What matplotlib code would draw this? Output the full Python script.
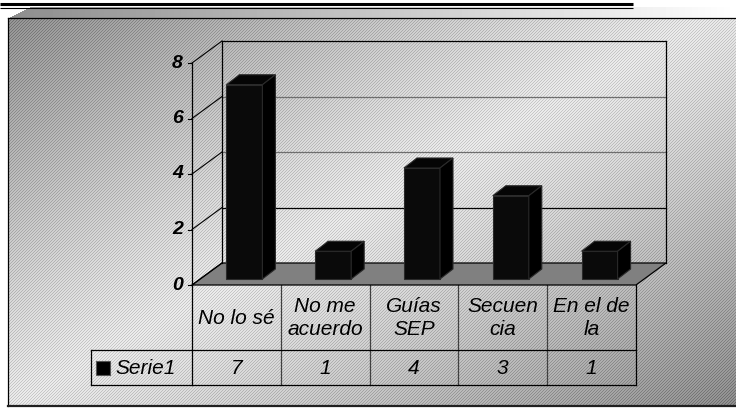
import numpy as np
import matplotlib.pyplot as plt
from matplotlib.patches import Polygon, Rectangle
from matplotlib.transforms import blended_transform_factory

categories = ['No lo sé', 'No me\nacuerdo', 'Guías\nSEP', 'Secuen\ncia', 'En el de\nla']
values = [7, 1, 4, 3, 1]
series_name = 'Serie1'
y_ticks = [0, 2, 4, 6, 8]
grid_colors = ['black', 'black', '#6e6e6e', '#6e6e6e', 'black']

W, H = 736, 409
plt.rcParams['font.family'] = ['Liberation Sans', 'DejaVu Sans']

fig = plt.figure(figsize=(W / 100, H / 100), dpi=100)

# full-figure axes in pixel units for the chart frame and the data table
bg = fig.add_axes([0, 0, 1, 1])
bg.set_xlim(0, W)
bg.set_ylim(H, 0)
bg.axis('off')

yy, xx = np.mgrid[0:H, 0:W]
u = xx / W + yy / H
shade = 0.92 - 0.36 * np.abs(u - 1) ** 1.2
shade = shade - 0.14 * ((xx + yy) % 3 == 0)
img = np.ones((H, W))
box = (xx >= 8) & (yy >= 18) & (yy <= 406)
img[box] = shade[box]
top = (yy >= 7) & (yy < 18) & (xx >= 8 + (18 - yy) * 2)
img[top] = (0.55 + 0.45 * xx / W)[top]
bg.imshow(img, cmap='gray', vmin=0, vmax=1, extent=(0, W, H, 0),
          interpolation='nearest', aspect='auto', zorder=0)

# frame lines
bg.plot([0, 633], [4, 4], color='black', lw=2.2, solid_capstyle='butt')
bg.plot([0, 633], [7.5, 7.5], color='black', lw=0.8, solid_capstyle='butt')
bg.plot([8, W], [18, 18], color='black', lw=0.9)
bg.plot([8, 8], [18, 406], color='black', lw=0.9)
bg.plot([8, W], [406, 406], color='#202020', lw=1.6)

# plot area: front plane of the 3D box
ax = fig.add_axes([192 / W, (H - 285) / H, 444 / W, 222 / H])
ax.set_xlim(-0.5, len(values) - 0.5)
ax.set_ylim(0, 8)
ax.axis('off')

sx = 444 / len(values)   # px per category
sy = 222 / 8             # px per unit
wall_dx, wall_dy = 30 / sx, 22 / sy
bar_dx, bar_dy = 8 / sx, 6 / sy
depth_dx, depth_dy = 13 / sx, 10 / sy
bar_w = 36 / sx
x_left, x_right = -0.5, len(values) - 0.5

# floor
ax.add_patch(Polygon([(x_left, 0), (x_right, 0),
                      (x_right + wall_dx, wall_dy), (x_left + wall_dx, wall_dy)],
                     closed=True, facecolor='#808080', edgecolor='black',
                     lw=0.9, clip_on=False, zorder=1))

# back wall gridlines and side wall diagonals
for t, c in zip(y_ticks, grid_colors):
    if t > 0:
        ax.plot([x_left + wall_dx, x_right + wall_dx], [t + wall_dy] * 2,
                color=c, lw=0.9, clip_on=False, zorder=1)
    ax.plot([x_left, x_left + wall_dx], [t, t + wall_dy],
            color='black', lw=0.8, clip_on=False, zorder=1)
    ax.plot([x_left - 4 / sx, x_left], [t, t], color='black', lw=0.8, clip_on=False)
    ax.text(x_left - 9 / sx, t, str(t), ha='right', va='center',
            fontsize=14, fontweight='bold', fontstyle='italic')

for xv in (x_left + wall_dx, x_right + wall_dx):
    ax.plot([xv, xv], [wall_dy, 8 + wall_dy], color='black', lw=0.9,
            clip_on=False, zorder=1)
ax.plot([x_left, x_left], [0, 8], color='black', lw=0.9, clip_on=False, zorder=1)

# bars: front face, top and side
xs = np.arange(len(values)) + bar_dx
ax.bar(xs, values, width=bar_w, bottom=bar_dy, color='#0a0a0a',
       edgecolor='#2a2a2a', lw=0.8, clip_on=False, zorder=3)
for x, v in zip(xs, values):
    x0, x1 = x - bar_w / 2, x + bar_w / 2
    y0, y1 = bar_dy, bar_dy + v
    ax.add_patch(Polygon([(x0, y1), (x1, y1), (x1 + depth_dx, y1 + depth_dy),
                          (x0 + depth_dx, y1 + depth_dy)], closed=True,
                         facecolor='#050505', edgecolor='#2a2a2a', lw=0.8,
                         clip_on=False, zorder=3))
    ax.add_patch(Polygon([(x1, y0), (x1 + depth_dx, y0 + depth_dy),
                          (x1 + depth_dx, y1 + depth_dy), (x1, y1)], closed=True,
                         facecolor='#000000', edgecolor='#2a2a2a', lw=0.8,
                         clip_on=False, zorder=3))

# data table under the categories
tt = blended_transform_factory(ax.transData, bg.transData)
head_top, row_mid, row_bot = 285, 350, 385
edges = np.arange(len(values) + 1) - 0.5
for k, e in enumerate(edges):
    outer = k in (0, len(edges) - 1)
    bg.plot([e, e], [head_top, row_bot], transform=tt,
            color='black' if outer else '#404040', lw=0.9)
for yv in (row_mid, row_bot):
    bg.plot([x_left, x_right], [yv, yv], transform=tt, color='black', lw=0.9)
    bg.plot([91, 192], [yv, yv], color='black', lw=0.9)
bg.plot([91, 91], [row_mid, row_bot], color='black', lw=0.9)

for i, (cat, v) in enumerate(zip(categories, values)):
    bg.text(i, (head_top + row_mid) / 2 + 0.5, cat, transform=tt, ha='center',
            va='center', fontsize=15, fontstyle='italic', linespacing=1.3)
    bg.text(i, (row_mid + row_bot) / 2 + 1, str(v), transform=tt, ha='center',
            va='center', fontsize=15, fontstyle='italic')

bg.add_patch(Rectangle((96, 361), 14, 14, facecolor='black', edgecolor='#555555', lw=0.8))
bg.text(115, 368.5, series_name, ha='left', va='center', fontsize=15,
        fontstyle='italic')

fig.savefig('out.png', dpi=100)
